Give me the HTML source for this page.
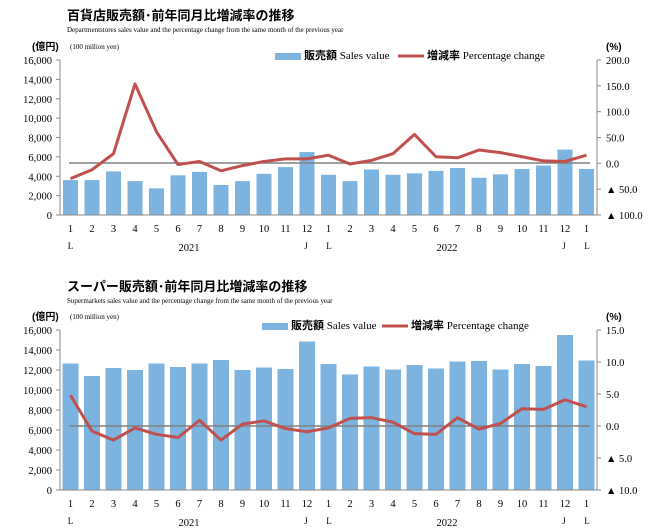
<!DOCTYPE html>
<html><head><meta charset="utf-8"><style>
body{margin:0;background:#fff;}
svg{display:block;font-family:"Liberation Serif","Noto Serif CJK SC",serif;}
.t{font-family:"Liberation Sans","Noto Sans CJK JP",sans-serif;font-weight:bold;}
</style></head><body>
<svg width="650" height="530" xmlns="http://www.w3.org/2000/svg">
<rect width="650" height="530" fill="#fff"/>
<g id="c"></g>
</svg>
<script>
const g=document.getElementById('c');let h='';
function chart(o){
 const L=60,R=597,T=o.top,B=o.bot;
 h+=`<text x="67" y="${o.ty}" class="t" font-size="13">${o.title}</text>`;
 h+=`<text x="67" y="${o.ty+12}" font-size="7">${o.sub}</text>`;
 h+=`<text x="32" y="${T-10}" class="t" font-size="10">(億円)</text>`;
 h+=`<text x="70" y="${T-11}" font-size="7">(100 million yen)</text>`;
 h+=`<text x="606" y="${T-10}" class="t" font-size="10">(%)</text>`;
 h+=`<rect x="${o.lx}" y="${T-7}" width="26" height="7" fill="#7cb4df"/><text x="${o.lx+29}" y="${T-1}" font-size="11"><tspan class="t">販売額</tspan> Sales value</text>`;
 h+=`<line x1="${o.lx2}" y1="${T-4}" x2="${o.lx2+26}" y2="${T-4}" stroke="#c0504d" stroke-width="3"/><text x="${o.lx2+29}" y="${T-1}" font-size="11"><tspan class="t">増減率</tspan> Percentage change</text>`;
 const ys=v=>B-(v/16000)*(B-T);
 for(let v=0;v<=16000;v+=2000){const y=ys(v);h+=`<line x1="56" y1="${y}" x2="${L}" y2="${y}" stroke="#888"/><text x="52" y="${y+4}" font-size="10.5" text-anchor="end">${v.toLocaleString('en-US')}</text>`;}
 o.rt.forEach((s,i)=>{const y=T+i*(B-T)/(o.rt.length-1);h+=`<line x1="${R}" y1="${y}" x2="${R+4}" y2="${y}" stroke="#888"/><text x="606" y="${y+4}" font-size="10.5">${s}</text>`;});
 o.bars.forEach((v,i)=>{const cx=70.5+21.5*i;h+=`<rect x="${cx-o.bw/2}" y="${ys(v)}" width="${o.bw}" height="${B-ys(v)}" fill="#7cb4df"/>`;
  h+=`<text x="${cx}" y="${B+17}" font-size="10.5" text-anchor="middle">${[1,2,3,4,5,6,7,8,9,10,11,12][i%12]}</text>`;});
 h+=`<line x1="${L}" y1="${T}" x2="${L}" y2="${B}" stroke="#888"/><line x1="${R}" y1="${T}" x2="${R}" y2="${B}" stroke="#888"/><line x1="${L}" y1="${B}" x2="${R}" y2="${B}" stroke="#888"/>`;
 h+=`<line x1="69" y1="${o.z}" x2="590" y2="${o.z}" stroke="#808080" stroke-width="1.5"/>`;
 const pts=o.pct.map((p,i)=>`${70.5+21.5*i},${o.z-p*o.ps}`).join(' ');
 h+=`<polyline points="${pts}" fill="none" stroke="#c0504d" stroke-width="3" stroke-linejoin="round"/>`;
 const yy=B+o.yo;
 [[70.5,'L'],[306,'J'],[329,'L'],[564,'J'],[587,'L']].forEach(a=>h+=`<text x="${a[0]}" y="${yy}" font-size="9" text-anchor="middle">${a[1]}</text>`);
 h+=`<text x="189" y="${yy+2}" font-size="10.5" text-anchor="middle">2021</text><text x="447" y="${yy+2}" font-size="10.5" text-anchor="middle">2022</text>`;
}
chart({top:60,bot:215,ty:20,title:'百貨店販売額･前年同月比増減率の推移',sub:'Departmentstores sales value and the percentage change from the same month of the previous year',lx:275,lx2:398,bw:15,z:163,ps:0.52,yo:34,
 rt:['200.0','150.0','100.0','50.0','0.0','▲ 50.0','▲ 100.0'],
 bars:[3600,3600,4500,3500,2750,4100,4450,3100,3500,4250,4950,6500,4150,3500,4700,4150,4300,4550,4850,3850,4200,4750,5100,6750,4750],
 pct:[-30,-13,18,152,60,-3,3,-15,-5,3,8,8,15,-2,5,18,55,12,10,25,20,12,4,3,15]});
chart({top:330,bot:490,ty:291,title:'スーパー販売額･前年同月比増減率の推移',sub:'Supermarkets sales value and the percentage change from the same month of the previous year',lx:262,lx2:382,bw:16,z:426,ps:6.4,yo:34,
 rt:['15.0','10.0','5.0','0.0','▲ 5.0','▲ 10.0'],
 bars:[12650,11400,12200,12000,12650,12300,12650,13000,12000,12250,12100,14850,12600,11550,12350,12050,12500,12150,12850,12900,12050,12600,12400,15500,12950],
 pct:[4.8,-0.8,-2.2,-0.3,-1.3,-1.8,0.9,-2.2,0.3,0.8,-0.4,-0.9,-0.3,1.2,1.3,0.6,-1.2,-1.3,1.3,-0.5,0.4,2.7,2.6,4.1,3.0]});
g.innerHTML=h;
</script>
</body></html>
